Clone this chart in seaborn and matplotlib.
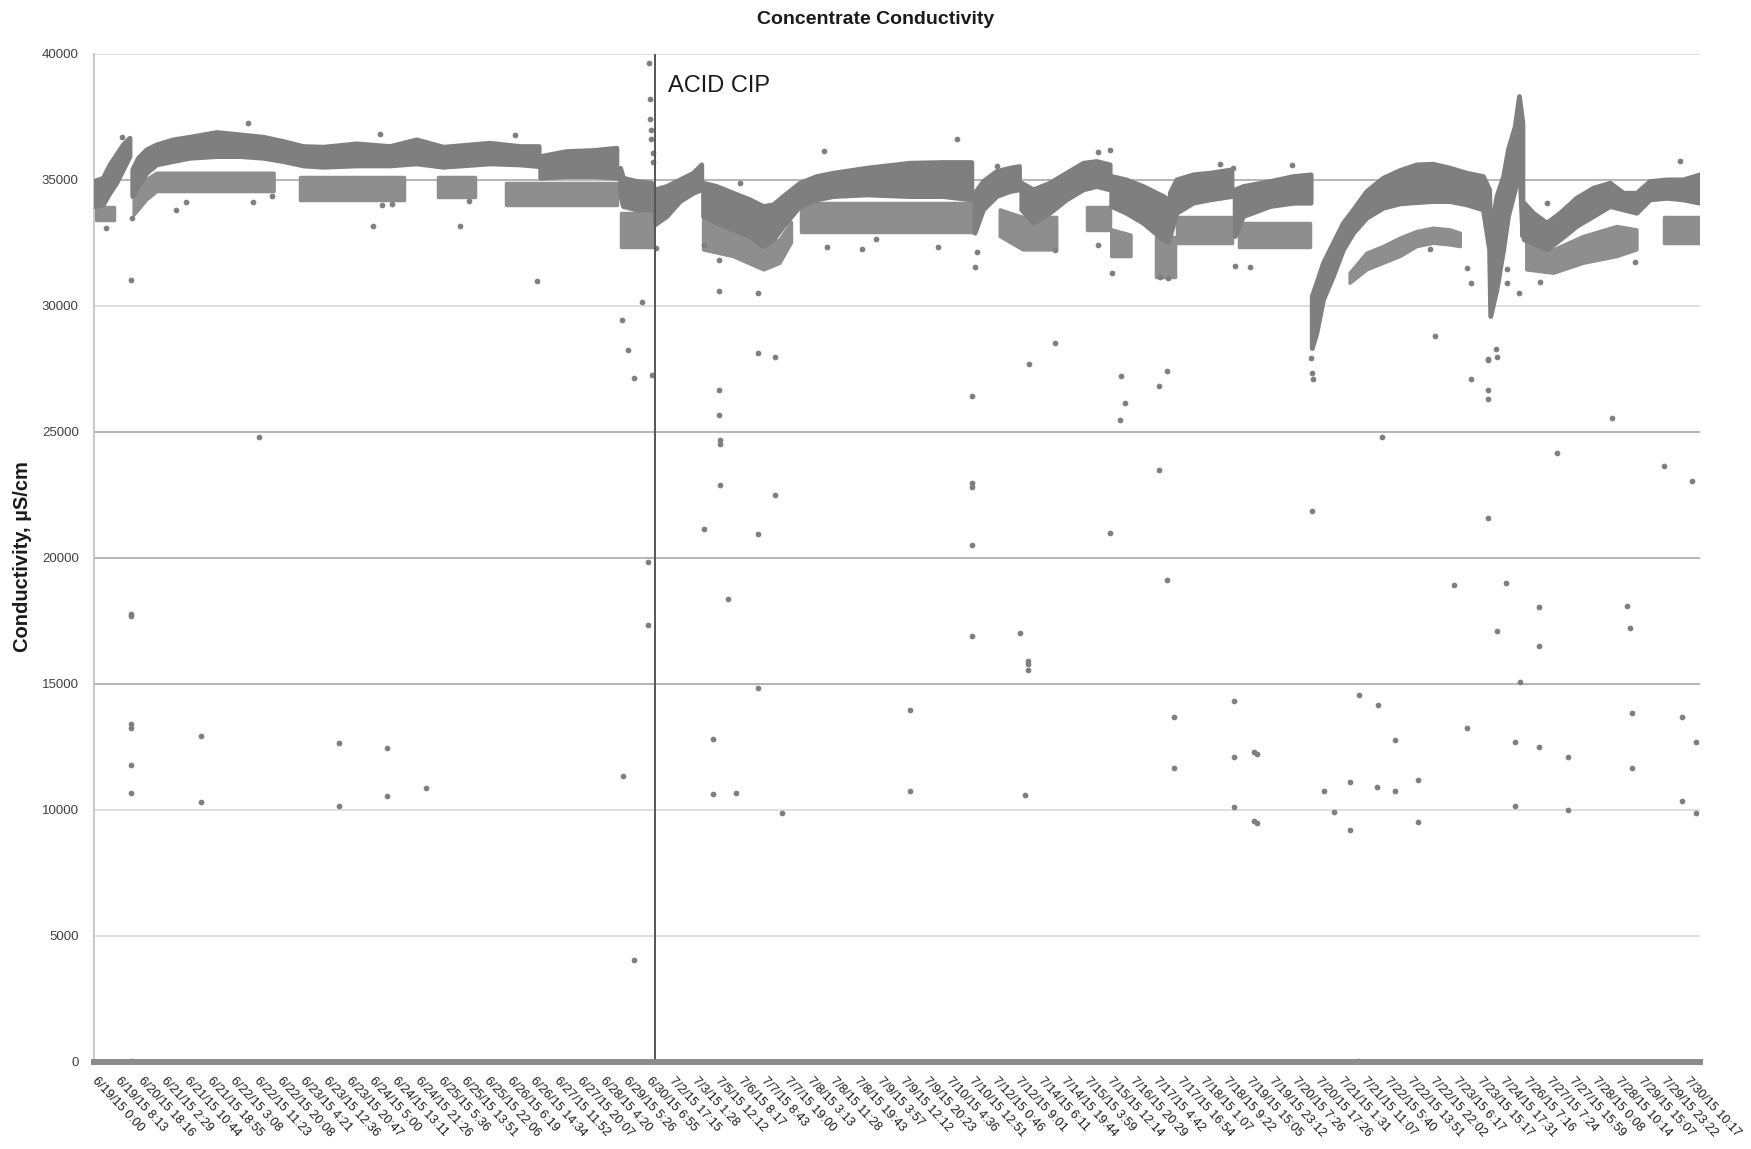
import numpy as np
import matplotlib
matplotlib.use("Agg")
import matplotlib.pyplot as plt
import seaborn as sns

# ── data (x in category units 0..70) ────────────────────────────────────────
NA = np.nan  # segment break

TICK_LABELS = [
    "6/19/15 0:00", "6/19/15 8:13", "6/20/15 18:16", "6/21/15 2:29", "6/21/15 10:44",
    "6/21/15 18:55", "6/22/15 3:08", "6/22/15 11:23", "6/22/15 20:08", "6/23/15 4:21",
    "6/23/15 12:36", "6/23/15 20:47", "6/24/15 5:00", "6/24/15 13:11", "6/24/15 21:26",
    "6/25/15 5:36", "6/25/15 13:51", "6/25/15 22:06", "6/26/15 6:19", "6/26/15 14:34",
    "6/27/15 11:52", "6/27/15 20:07", "6/28/15 4:20", "6/29/15 5:26", "6/30/15 6:55",
    "7/2/15 17:15", "7/3/15 1:28", "7/5/15 12:12", "7/6/15 8:17", "7/7/15 8:43",
    "7/7/15 19:00", "7/8/15 3:13", "7/8/15 11:28", "7/8/15 19:43", "7/9/15 3:57",
    "7/9/15 12:12", "7/9/15 20:23", "7/10/15 4:36", "7/10/15 12:51", "7/12/15 0:46",
    "7/12/15 9:01", "7/14/15 6:11", "7/14/15 19:44", "7/15/15 3:59", "7/15/15 12:14",
    "7/16/15 20:29", "7/17/15 4:42", "7/17/15 16:54", "7/18/15 1:07", "7/18/15 9:22",
    "7/19/15 15:05", "7/19/15 23:12", "7/20/15 7:26", "7/20/15 17:26", "7/21/15 1:31",
    "7/21/15 11:07", "7/22/15 5:40", "7/22/15 13:51", "7/22/15 22:02", "7/23/15 6:17",
    "7/23/15 15:17", "7/24/15 17:31", "7/26/15 7:16", "7/27/15 7:24", "7/27/15 15:59",
    "7/28/15 0:08", "7/28/15 10:14", "7/29/15 15:07", "7/29/15 23:22", "7/30/15 10:17",
]

# dense main band of readings: x, upper edge, lower edge
BAND_X = [0.0, 0.41, 0.70, 0.99, 1.28, 1.57, NA,
          1.69, 1.94, 2.30, 2.74, 3.46, 4.19, 5.35, 6.37, 7.39, 8.26, 9.13, 10.0,
          11.46, 12.91, 14.07, 15.24, 17.27, 18.57, 19.40, NA,
          19.47, 20.61, 21.77, 22.79, NA,
          22.95, 23.08, 23.66, 24.31, NA,
          24.46, 24.97, 25.55, 26.13, 26.49, NA,
          26.57, 27.15, 27.87, 28.60, 29.18, 29.62, 30.05, 30.78, 31.51, 32.23, 33.69,
          35.57, 37.02, 38.26, NA,
          38.40, 38.77, 39.35, 39.93, 40.34, NA,
          40.44, 40.95, 41.67, 42.40, 43.13, 43.71, 44.29, NA,
          44.36, 45.00, 45.74, 46.62, 46.83, NA,
          46.91, 47.20, 47.92, 48.65, 49.60, NA,
          49.74, 50.10, 51.27, 52.29, 53.05, NA,
          53.10, 53.30, 53.59, 54.02, 54.46, 54.90, 55.48, 56.20, 56.93, 57.66, 58.38,
          59.11, 59.84, 60.56, 60.83, 60.88, 61.15, 61.44, 61.65, 61.95, 62.13, 62.28, NA,
          62.34, 62.74, 63.33, 63.91, 64.63, 65.36, 66.09, 66.67, 67.25, 67.83, 68.56,
          69.28, 70.0]
BAND_TOP = [34924, 35056, 35585, 35981, 36378, 36643, NA,
            35387, 35849, 36180, 36378, 36577, 36682, 36867, 36775, 36682, 36510, 36312, 36285,
            36418, 36312, 36577, 36285, 36444, 36312, 36312, NA,
            35916, 36114, 36154, 36246, NA,
            35451, 35056, 34924, 34858, NA,
            34594, 34726, 34990, 35255, 35585, NA,
            34858, 34726, 34461, 34197, 33933, 34000, 34329, 34858, 35122, 35255, 35453,
            35651, 35678, 35678, NA,
            34461, 34924, 35321, 35453, 35519, NA,
            34858, 34594, 34858, 35255, 35651, 35717, 35585, NA,
            35122, 34990, 34726, 34329, 34200, NA,
            34461, 34990, 35189, 35255, 35387, NA,
            34594, 34726, 34924, 35122, 35189, NA,
            30363, 30892, 31685, 32478, 33272, 33800, 34528, 35056, 35360, 35585, 35611,
            35453, 35255, 35122, 34594, 32743, 34329, 35122, 36180, 37105, 38295, 37237, NA,
            34065, 33668, 33272, 33668, 34263, 34660, 34858, 34461, 34461, 34924, 34990,
            34990, 35189]
BAND_BOT = [33933, 34000, 34461, 34858, 35387, 35916, NA,
            34329, 34726, 35255, 35585, 35717, 35849, 35916, 35916, 35849, 35717, 35545, 35492,
            35545, 35545, 35625, 35492, 35625, 35585, 35519, NA,
            35056, 35122, 35122, 35056, NA,
            34400, 33933, 33800, 33800, NA,
            33205, 33536, 34131, 34461, 34594, NA,
            33536, 33272, 33007, 32743, 32346, 32610, 33140, 33933, 34197, 34329, 34395,
            34329, 34329, 34197, NA,
            32875, 33800, 34329, 34528, 34594, NA,
            33800, 33272, 33668, 34197, 34594, 34726, 34594, NA,
            33933, 33668, 33272, 32610, 32500, NA,
            32743, 33668, 34065, 34197, 34329, NA,
            32743, 33536, 33933, 34065, 34065, NA,
            28300, 28909, 30231, 31156, 32214, 32875, 33470, 33866, 34038, 34091, 34131,
            34131, 34000, 33800, 32214, 29570, 30628, 32214, 33536, 34594, 35783, 32743, NA,
            32610, 32478, 32214, 32610, 33140, 33536, 33933, 33800, 33668, 34197, 34263,
            34197, 34065]

# sparser secondary band below the main one
LOW_X = [0.10, 0.85, NA,
         1.75, 2.30, 2.74, 7.85, NA,
         9.00, 13.50, NA,
         15.00, 16.60, NA,
         17.95, 22.80, NA,
         22.95, 24.35, NA,
         26.57, 27.87, 29.20, 29.90, 30.40, NA,
         30.80, 38.26, NA,
         39.50, 40.50, 41.96, NA,
         43.27, 44.29, NA,
         44.36, 45.20, NA,
         46.30, 47.10, NA,
         47.20, 49.60, NA,
         49.90, 53.00, NA,
         54.75, 55.48, 56.20, 56.93, 57.66, 58.38, 59.11, 59.55, NA,
         62.45, 63.62, 64.92, 66.38, 67.25, NA,
         68.41, 70.00]
LOW_TOP = [33933, 33933, NA,
           34600, 35000, 35255, 35255, NA,
           35122, 35122, NA,
           35122, 35122, NA,
           34858, 34858, NA,
           33668, 33668, NA,
           33536, 33007, 32346, 32610, 33300, NA,
           34065, 34065, NA,
           33800, 33500, 33500, NA,
           33933, 33933, NA,
           33007, 32800, NA,
           32743, 32743, NA,
           33536, 33536, NA,
           33272, 33272, NA,
           31289, 32082, 32346, 32677, 32941, 33073, 33007, 32875, NA,
           32478, 32214, 32743, 33140, 33007, NA,
           33536, 33536]
LOW_BOT = [33404, 33404, NA,
           33600, 34200, 34528, 34528, NA,
           34197, 34197, NA,
           34329, 34329, NA,
           34000, 34000, NA,
           32346, 32346, NA,
           32214, 31950, 31421, 31685, 32500, NA,
           32940, 32940, NA,
           32743, 32214, 32214, NA,
           33007, 33007, NA,
           31950, 31950, NA,
           31156, 31156, NA,
           32478, 32478, NA,
           32346, 32346, NA,
           30892, 31421, 31685, 31950, 32346, 32478, 32412, 32346, NA,
           31421, 31289, 31685, 31950, 32214, NA,
           32478, 32478]

# isolated readings
OUT_X = [0.53, 1.65, 1.60, 1.60, 1.60, 1.60, 1.60, 1.60, 1.60, 1.60, 1.24,
         3.58, 4.02, 6.95, 7.75, 6.73, 12.45, 12.18, 12.56, 12.98, 15.96, 16.33,
         4.67, 4.67, 7.20, 10.66, 10.66, 12.79, 12.79, 14.45,
         18.35, 19.32,
         23.00, 23.27, 23.55, 23.89, 23.07, 23.55,
         24.14, 24.14, 24.33,
         24.21, 24.23, 24.25, 24.27, 24.27, 24.35, 24.38, 24.50,
         26.57, 26.96, 26.96, 26.60,
         27.25, 27.25, 27.28, 27.28, 27.28, 27.64, 27.98, 27.26, 27.22,
         28.17, 28.96, 28.96, 28.96, 28.94,
         29.69, 29.69, 29.98,
         31.80, 31.97, 33.47, 34.10,
         35.58, 35.58, 36.78, 37.60,
         38.26, 38.26, 38.26, 38.26, 38.26, 38.38, 38.48, 39.35,
         40.38, 40.71, 40.71, 40.71, 40.60, 40.74,
         41.90, 41.89, 43.78, 44.29, 43.77, 44.38,
         44.76, 44.94, 44.72, 44.29,
         46.40, 46.79, 46.40, 46.75, 47.09, 47.09, 46.47, 46.83,
         49.09, 49.64, 49.74, 50.37, 52.21,
         49.69, 49.69, 49.69, 50.54, 50.70, 50.54, 50.70,
         53.07, 53.10, 53.12, 53.06,
         53.60, 54.05, 54.74, 54.74, 55.08, 55.13, 55.96, 55.90, 56.16, 56.71, 56.71,
         57.72, 57.72,
         58.24, 58.47, 59.26, 59.84, 59.85, 60.03, 60.01,
         60.74, 60.74, 60.74, 60.78, 61.15, 61.12, 60.74, 61.55, 61.15, 62.14, 61.94,
         61.94, 61.58, 61.58, 62.12,
         62.97, 63.00, 62.97, 63.04, 63.33, 63.76, 64.25, 64.25,
         66.17, 66.83, 66.97, 67.05, 67.05, 67.18,
         68.43, 69.14, 69.22, 69.22, 69.63, 69.83, 69.83]
OUT_Y = [33100, 33470, 31010, 17760, 17680, 13420, 13250, 11780, 10680, 40, 36709,
         33800, 34130, 34130, 34370, 37264, 36802, 33179, 34000, 34030, 33179, 34170,
         12930, 10320, 24800, 12670, 10140, 12450, 10540, 10850,
         36775, 30970,
         29440, 28250, 27150, 30140, 11340, 4030,
         19850, 17320, 27240,
         39644, 38190, 37420, 36950, 36600, 36050, 35700, 32280,
         21130, 12800, 10630, 32412,
         26670, 25650, 24680, 24500, 22900, 18380, 10680, 30600, 31817,
         34860, 28130, 20950, 14840, 30520,
         27950, 22500, 9880,
         36150, 32346, 32250, 32637,
         13950, 10760, 32346, 36603,
         26400, 22950, 22810, 20510, 16880, 31553, 32148, 35559,
         17000, 15890, 15800, 15540, 10600, 27704,
         28540, 32214, 36114, 36180, 32412, 31315,
         27200, 26150, 25466, 20970,
         26830, 27410, 23480, 19100, 13690, 11670, 31156, 31116,
         35611, 35453, 31579, 31553, 35585,
         14300, 12080, 10130, 12290, 12230, 9570, 9470,
         21870, 27350, 27080, 27940,
         10750, 9900, 11100, 9200, 30, 14550, 14180, 10910, 24780, 12760, 10750,
         11180, 9530,
         32254, 28810, 18930, 31487, 13240, 30892, 27080,
         26670, 26280, 27900, 27851, 27957, 28275, 21570, 19010, 17080, 15055, 12700,
         10150, 30892, 31460, 30522,
         18050, 16510, 12500, 30932, 34091, 24140, 12080, 10010,
         25540, 18100, 17200, 13830, 11670, 31725,
         23660, 35757, 13690, 10350, 23030, 12700, 9860]

ACID_CIP_X = 24.46

# ── style ───────────────────────────────────────────────────────────────────
DOT = "#7f7f7f"
DOT_SPARSE = "#8e8e8e"
GRID_DARK = "#a9a9a9"
GRID_LIGHT = "#dadada"

sns.set_theme(style="white")
plt.rcParams["font.family"] = ["Liberation Sans", "DejaVu Sans"]

W, H = 1751, 1149
fig = plt.figure(figsize=(W / 100, H / 100), dpi=100)
ax = fig.add_axes([94 / W, 87 / H, 1606 / W, 1008.4 / H])

# gridlines (some print darker in the original)
for v, c in [(5000, GRID_LIGHT), (10000, GRID_LIGHT), (15000, GRID_DARK),
             (20000, GRID_DARK), (25000, GRID_DARK), (30000, GRID_LIGHT),
             (35000, GRID_DARK), (40000, GRID_LIGHT)]:
    ax.axhline(v, color=c, lw=1.2, zorder=0)

# sparse lower band, then the dense band on top
low = ax.fill_between(np.array(LOW_X, dtype=float), np.array(LOW_BOT, dtype=float),
                      np.array(LOW_TOP, dtype=float),
                      facecolor=DOT_SPARSE, edgecolor=DOT_SPARSE, linewidth=2.5, zorder=2)
low.set_joinstyle("round")
band = ax.fill_between(np.array(BAND_X, dtype=float), np.array(BAND_BOT, dtype=float),
                       np.array(BAND_TOP, dtype=float),
                       facecolor=DOT, edgecolor=DOT, linewidth=3.5, zorder=3)
band.set_joinstyle("round")

sns.scatterplot(x=OUT_X, y=OUT_Y, s=17, color=DOT, linewidth=0, ax=ax, zorder=4)

ax.axvline(ACID_CIP_X, color="#555555", lw=1.4, zorder=5)
ax.text(25.02, 38468, "ACID CIP", fontsize=17, color="#1a1a1a",
        ha="left", va="baseline", zorder=6)

ax.set_xlim(0, 70)
ax.set_ylim(0, 40000)
ax.set_yticks(range(0, 40001, 5000))
ax.set_yticklabels([str(v) for v in range(0, 40001, 5000)], fontsize=9.5, color="#404040")
ax.set_xticks(np.linspace(0.2, 69.6, len(TICK_LABELS)))
ax.set_xticklabels(TICK_LABELS, rotation=-47, ha="left", va="top",
                   rotation_mode="anchor", fontsize=9, color="#1a1a1a")
ax.tick_params(axis="x", length=0, pad=9)
ax.tick_params(axis="y", length=0, pad=11)
ax.set_xlabel("")
ax.set_ylabel("")

for s in ("top", "right"):
    ax.spines[s].set_visible(False)
ax.spines["left"].set_color("#c0c0c0")
ax.spines["left"].set_linewidth(1.2)
ax.spines["bottom"].set_color("#8c8c8c")
ax.spines["bottom"].set_linewidth(4.3)
ax.spines["bottom"].set_zorder(6)

fig.text(0.5, 1 - 20 / H, "Concentrate Conductivity", ha="center", va="center",
         fontsize=14, fontweight="bold", color="#1a1a1a")
fig.text(22 / W, 1 - 557 / H, "Conductivity, µS/cm", ha="center", va="center",
         rotation=90, fontsize=14.5, fontweight="bold", color="#1a1a1a")

fig.savefig("out.png", dpi=100, facecolor="white")
plt.close(fig)
